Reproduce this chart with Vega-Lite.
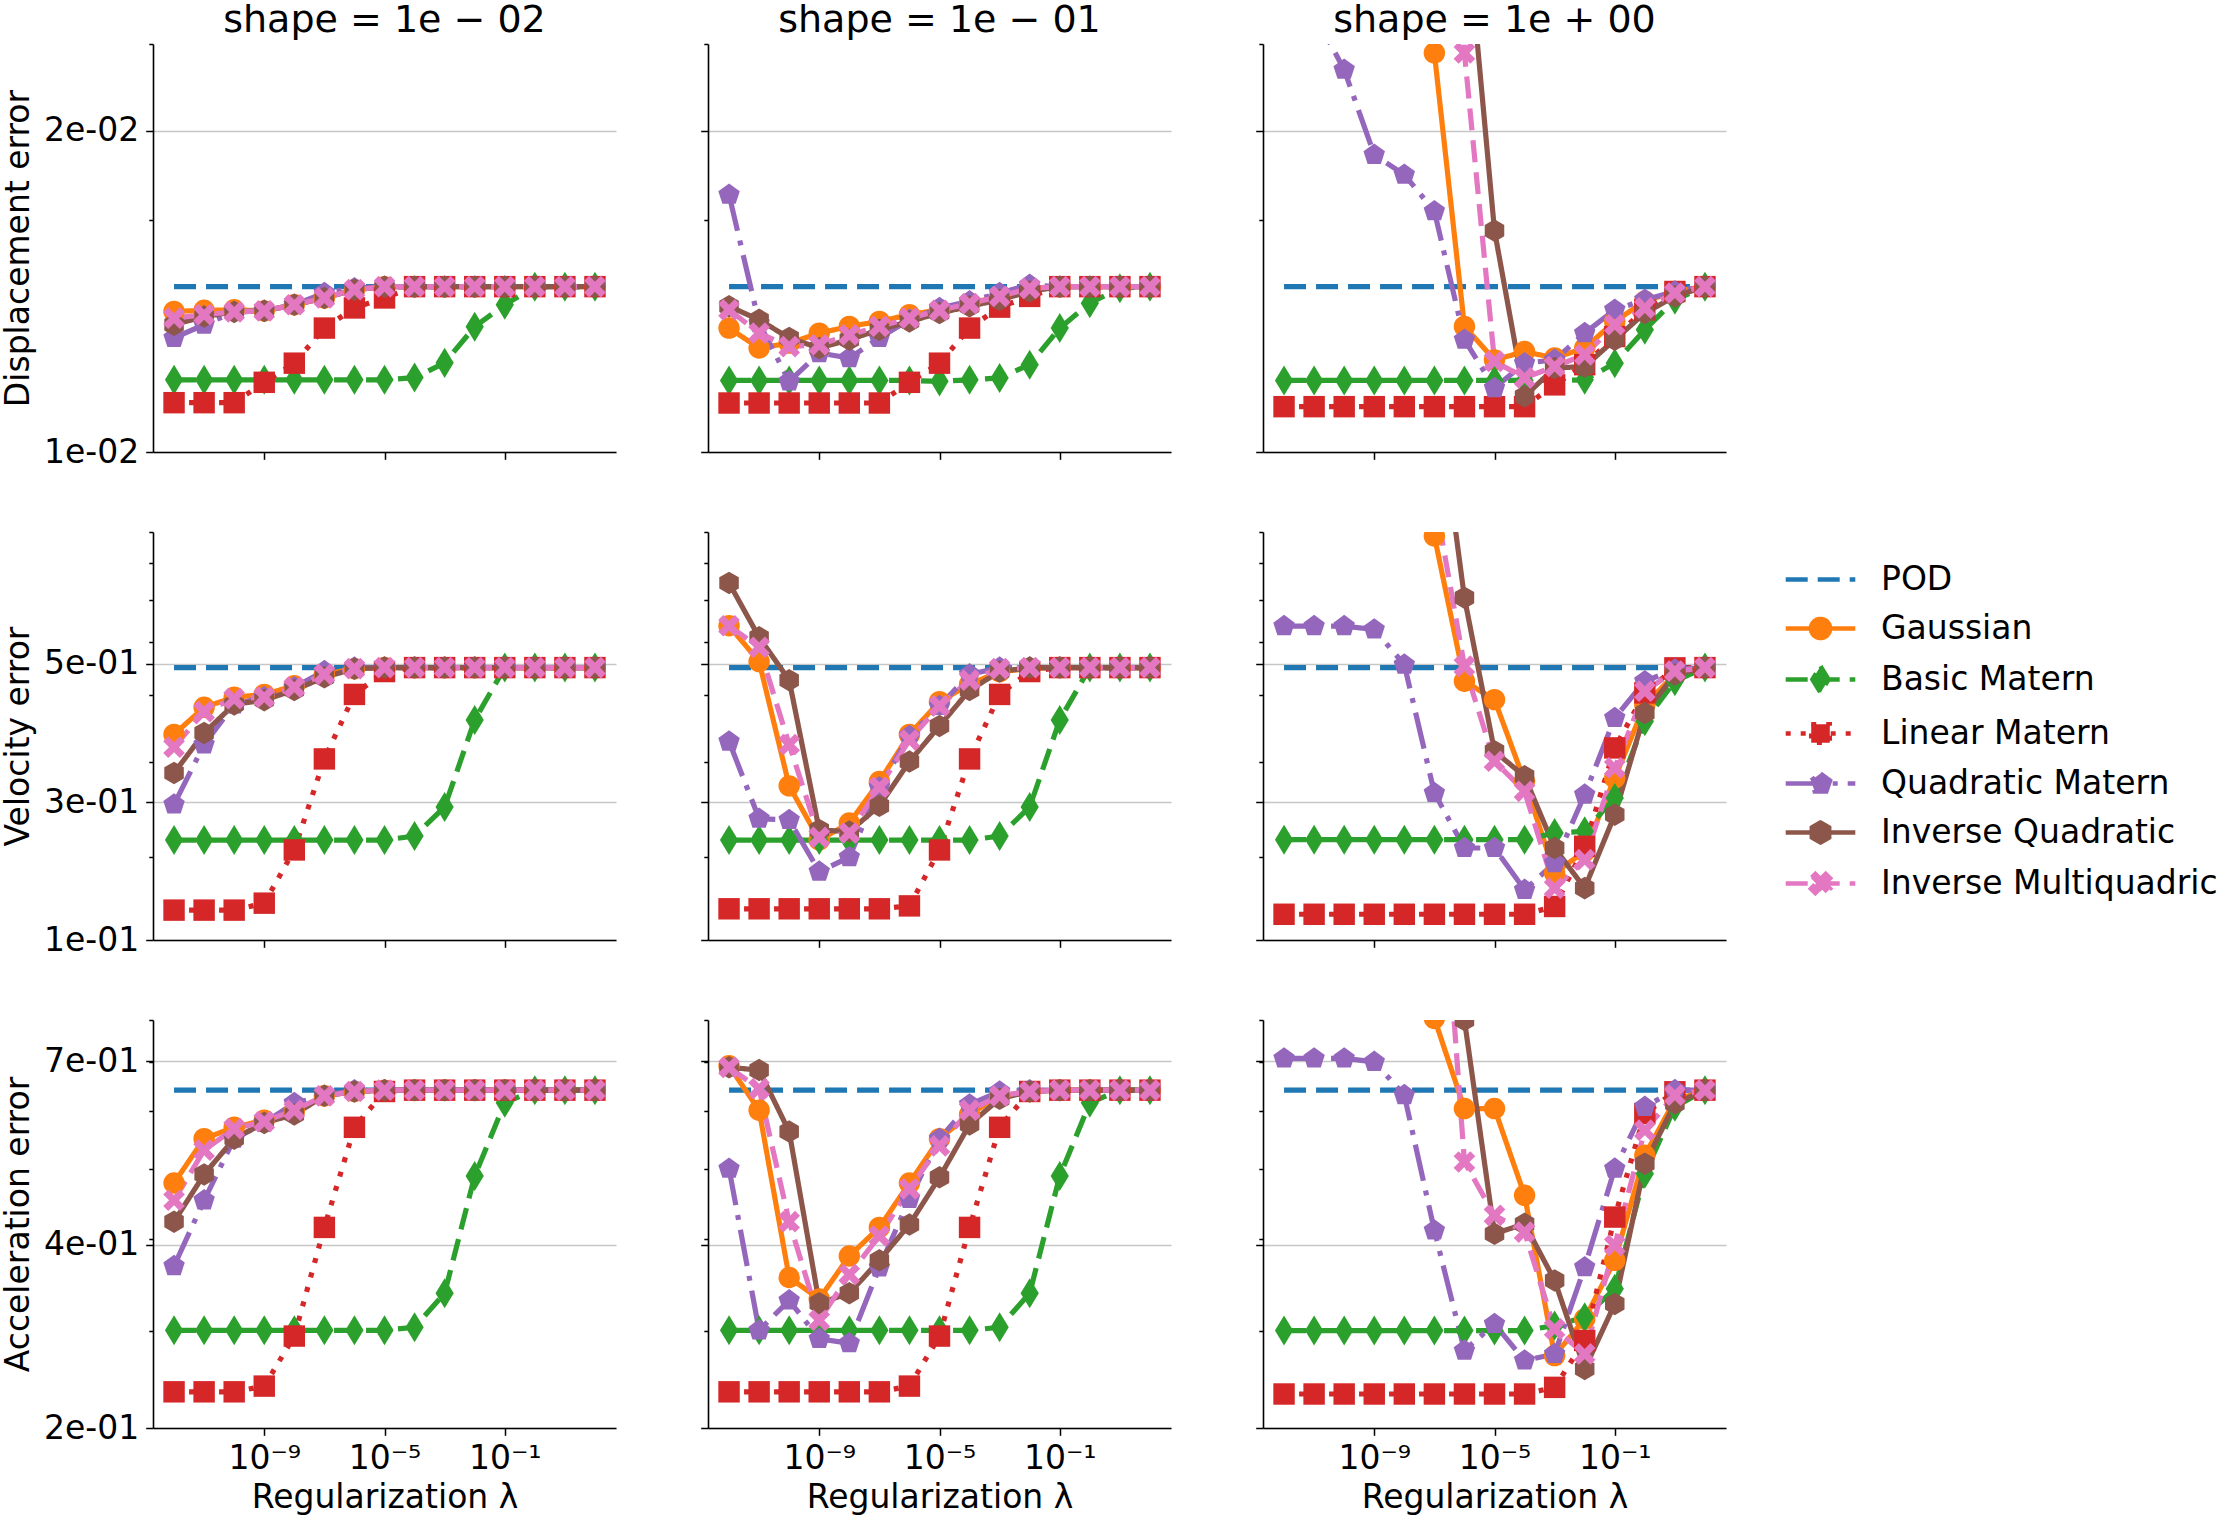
{
"$schema": "https://vega.github.io/schema/vega-lite/v6.json",
"background": "white",
"padding": {"left": 2, "top": 2, "right": 2, "bottom": 2},
"data": {"values": [
{"metric":"disp","shape":"s1","lambda":1e-12,"POD":0.01718,"Gaussian":0.01623,"Basic Matern":0.01387,"Linear Matern":0.01316,"Quadratic Matern":0.01527,"Inverse Quadratic":0.01574,"Inverse Multiquadric":0.01598},
{"metric":"disp","shape":"s1","lambda":1e-11,"POD":0.01718,"Gaussian":0.01627,"Basic Matern":0.01387,"Linear Matern":0.01316,"Quadratic Matern":0.01574,"Inverse Quadratic":0.01604,"Inverse Multiquadric":0.01611},
{"metric":"disp","shape":"s1","lambda":1e-10,"POD":0.01718,"Gaussian":0.01629,"Basic Matern":0.01387,"Linear Matern":0.01316,"Quadratic Matern":0.01621,"Inverse Quadratic":0.01621,"Inverse Multiquadric":0.01621},
{"metric":"disp","shape":"s1","lambda":1e-9,"POD":0.01718,"Gaussian":0.01625,"Basic Matern":0.01387,"Linear Matern":0.01379,"Quadratic Matern":0.01625,"Inverse Quadratic":0.01625,"Inverse Multiquadric":0.01625},
{"metric":"disp","shape":"s1","lambda":1e-8,"POD":0.01718,"Gaussian":0.01648,"Basic Matern":0.01387,"Linear Matern":0.01441,"Quadratic Matern":0.01648,"Inverse Quadratic":0.01648,"Inverse Multiquadric":0.01648},
{"metric":"disp","shape":"s1","lambda":1e-7,"POD":0.01718,"Gaussian":0.01674,"Basic Matern":0.01387,"Linear Matern":0.01562,"Quadratic Matern":0.01693,"Inverse Quadratic":0.01674,"Inverse Multiquadric":0.01674},
{"metric":"disp","shape":"s1","lambda":1e-6,"POD":0.01718,"Gaussian":0.01706,"Basic Matern":0.01387,"Linear Matern":0.01636,"Quadratic Matern":0.01712,"Inverse Quadratic":0.01706,"Inverse Multiquadric":0.01706},
{"metric":"disp","shape":"s1","lambda":1e-5,"POD":0.01718,"Gaussian":0.01718,"Basic Matern":0.01387,"Linear Matern":0.01674,"Quadratic Matern":0.01718,"Inverse Quadratic":0.01718,"Inverse Multiquadric":0.01718},
{"metric":"disp","shape":"s1","lambda":1e-4,"POD":0.01718,"Gaussian":0.01718,"Basic Matern":0.01394,"Linear Matern":0.01718,"Quadratic Matern":0.01718,"Inverse Quadratic":0.01718,"Inverse Multiquadric":0.01718},
{"metric":"disp","shape":"s1","lambda":1e-3,"POD":0.01718,"Gaussian":0.01718,"Basic Matern":0.01442,"Linear Matern":0.01718,"Quadratic Matern":0.01718,"Inverse Quadratic":0.01718,"Inverse Multiquadric":0.01718},
{"metric":"disp","shape":"s1","lambda":1e-2,"POD":0.01718,"Gaussian":0.01718,"Basic Matern":0.01567,"Linear Matern":0.01718,"Quadratic Matern":0.01718,"Inverse Quadratic":0.01718,"Inverse Multiquadric":0.01718},
{"metric":"disp","shape":"s1","lambda":1e-1,"POD":0.01718,"Gaussian":0.01718,"Basic Matern":0.01648,"Linear Matern":0.01718,"Quadratic Matern":0.01718,"Inverse Quadratic":0.01718,"Inverse Multiquadric":0.01718},
{"metric":"disp","shape":"s1","lambda":1,"POD":0.01718,"Gaussian":0.01718,"Basic Matern":0.01718,"Linear Matern":0.01718,"Quadratic Matern":0.01718,"Inverse Quadratic":0.01718,"Inverse Multiquadric":0.01718},
{"metric":"disp","shape":"s1","lambda":10,"POD":0.01718,"Gaussian":0.01718,"Basic Matern":0.01718,"Linear Matern":0.01718,"Quadratic Matern":0.01718,"Inverse Quadratic":0.01718,"Inverse Multiquadric":0.01718},
{"metric":"disp","shape":"s1","lambda":100,"POD":0.01718,"Gaussian":0.01718,"Basic Matern":0.01718,"Linear Matern":0.01718,"Quadratic Matern":0.01718,"Inverse Quadratic":0.01718,"Inverse Multiquadric":0.01718},
{"metric":"disp","shape":"s2","lambda":1e-12,"POD":0.01718,"Gaussian":0.01562,"Basic Matern":0.01385,"Linear Matern":0.01315,"Quadratic Matern":0.02122,"Inverse Quadratic":0.01642,"Inverse Multiquadric":0.01629},
{"metric":"disp","shape":"s2","lambda":1e-11,"POD":0.01718,"Gaussian":0.01492,"Basic Matern":0.01385,"Linear Matern":0.01315,"Quadratic Matern":0.0158,"Inverse Quadratic":0.01592,"Inverse Multiquadric":0.01544},
{"metric":"disp","shape":"s2","lambda":1e-10,"POD":0.01718,"Gaussian":0.01509,"Basic Matern":0.01385,"Linear Matern":0.01315,"Quadratic Matern":0.01382,"Inverse Quadratic":0.01527,"Inverse Multiquadric":0.01497},
{"metric":"disp","shape":"s2","lambda":1e-9,"POD":0.01718,"Gaussian":0.01544,"Basic Matern":0.01385,"Linear Matern":0.01315,"Quadratic Matern":0.01475,"Inverse Quadratic":0.01492,"Inverse Multiquadric":0.01503},
{"metric":"disp","shape":"s2","lambda":1e-8,"POD":0.01718,"Gaussian":0.01568,"Basic Matern":0.01385,"Linear Matern":0.01315,"Quadratic Matern":0.01458,"Inverse Quadratic":0.01521,"Inverse Multiquadric":0.01538},
{"metric":"disp","shape":"s2","lambda":1e-7,"POD":0.01718,"Gaussian":0.01586,"Basic Matern":0.01385,"Linear Matern":0.01315,"Quadratic Matern":0.01527,"Inverse Quadratic":0.01556,"Inverse Multiquadric":0.01568},
{"metric":"disp","shape":"s2","lambda":1e-6,"POD":0.01718,"Gaussian":0.01611,"Basic Matern":0.01385,"Linear Matern":0.01379,"Quadratic Matern":0.01592,"Inverse Quadratic":0.01586,"Inverse Multiquadric":0.01598},
{"metric":"disp","shape":"s2","lambda":1e-5,"POD":0.01718,"Gaussian":0.01629,"Basic Matern":0.01382,"Linear Matern":0.01441,"Quadratic Matern":0.01636,"Inverse Quadratic":0.01617,"Inverse Multiquadric":0.01627},
{"metric":"disp","shape":"s2","lambda":1e-4,"POD":0.01718,"Gaussian":0.01654,"Basic Matern":0.01387,"Linear Matern":0.01562,"Quadratic Matern":0.01661,"Inverse Quadratic":0.01642,"Inverse Multiquadric":0.01652},
{"metric":"disp","shape":"s2","lambda":1e-3,"POD":0.01718,"Gaussian":0.0168,"Basic Matern":0.01393,"Linear Matern":0.01639,"Quadratic Matern":0.01693,"Inverse Quadratic":0.01667,"Inverse Multiquadric":0.0168},
{"metric":"disp","shape":"s2","lambda":1e-2,"POD":0.01718,"Gaussian":0.01712,"Basic Matern":0.01436,"Linear Matern":0.0168,"Quadratic Matern":0.01725,"Inverse Quadratic":0.01699,"Inverse Multiquadric":0.01711},
{"metric":"disp","shape":"s2","lambda":1e-1,"POD":0.01718,"Gaussian":0.01718,"Basic Matern":0.01562,"Linear Matern":0.01718,"Quadratic Matern":0.01718,"Inverse Quadratic":0.01718,"Inverse Multiquadric":0.01718},
{"metric":"disp","shape":"s2","lambda":1,"POD":0.01718,"Gaussian":0.01718,"Basic Matern":0.01654,"Linear Matern":0.01718,"Quadratic Matern":0.01718,"Inverse Quadratic":0.01718,"Inverse Multiquadric":0.01718},
{"metric":"disp","shape":"s2","lambda":10,"POD":0.01718,"Gaussian":0.01718,"Basic Matern":0.01712,"Linear Matern":0.01718,"Quadratic Matern":0.01718,"Inverse Quadratic":0.01718,"Inverse Multiquadric":0.01718},
{"metric":"disp","shape":"s2","lambda":100,"POD":0.01718,"Gaussian":0.01718,"Basic Matern":0.01718,"Linear Matern":0.01718,"Quadratic Matern":0.01718,"Inverse Quadratic":0.01718,"Inverse Multiquadric":0.01718},
{"metric":"disp","shape":"s3","lambda":1e-12,"POD":0.01718,"Gaussian":0.5,"Basic Matern":0.01385,"Linear Matern":0.01304,"Quadratic Matern":0.0381,"Inverse Quadratic":0.5,"Inverse Multiquadric":0.5},
{"metric":"disp","shape":"s3","lambda":1e-11,"POD":0.01718,"Gaussian":0.5,"Basic Matern":0.01385,"Linear Matern":0.01304,"Quadratic Matern":0.0322,"Inverse Quadratic":0.5,"Inverse Multiquadric":0.5},
{"metric":"disp","shape":"s3","lambda":1e-10,"POD":0.01718,"Gaussian":0.5,"Basic Matern":0.01385,"Linear Matern":0.01304,"Quadratic Matern":0.02828,"Inverse Quadratic":0.5,"Inverse Multiquadric":0.5},
{"metric":"disp","shape":"s3","lambda":1e-9,"POD":0.01718,"Gaussian":0.5,"Basic Matern":0.01385,"Linear Matern":0.01304,"Quadratic Matern":0.02326,"Inverse Quadratic":0.5,"Inverse Multiquadric":0.5},
{"metric":"disp","shape":"s3","lambda":1e-8,"POD":0.01718,"Gaussian":0.5,"Basic Matern":0.01385,"Linear Matern":0.01304,"Quadratic Matern":0.02222,"Inverse Quadratic":0.5,"Inverse Multiquadric":0.5},
{"metric":"disp","shape":"s3","lambda":1e-7,"POD":0.01718,"Gaussian":0.02939,"Basic Matern":0.01385,"Linear Matern":0.01304,"Quadratic Matern":0.02043,"Inverse Quadratic":0.5,"Inverse Multiquadric":0.5},
{"metric":"disp","shape":"s3","lambda":1e-6,"POD":0.01718,"Gaussian":0.01568,"Basic Matern":0.01385,"Linear Matern":0.01304,"Quadratic Matern":0.01521,"Inverse Quadratic":0.0416,"Inverse Multiquadric":0.02939},
{"metric":"disp","shape":"s3","lambda":1e-5,"POD":0.01718,"Gaussian":0.01452,"Basic Matern":0.01385,"Linear Matern":0.01304,"Quadratic Matern":0.01361,"Inverse Quadratic":0.01954,"Inverse Multiquadric":0.01447},
{"metric":"disp","shape":"s3","lambda":1e-4,"POD":0.01718,"Gaussian":0.0148,"Basic Matern":0.01385,"Linear Matern":0.01304,"Quadratic Matern":0.01441,"Inverse Quadratic":0.01335,"Inverse Multiquadric":0.01393},
{"metric":"disp","shape":"s3","lambda":1e-3,"POD":0.01718,"Gaussian":0.01458,"Basic Matern":0.01385,"Linear Matern":0.01371,"Quadratic Matern":0.01452,"Inverse Quadratic":0.01425,"Inverse Multiquadric":0.0143},
{"metric":"disp","shape":"s3","lambda":1e-2,"POD":0.01718,"Gaussian":0.01492,"Basic Matern":0.01387,"Linear Matern":0.01436,"Quadratic Matern":0.01544,"Inverse Quadratic":0.0143,"Inverse Multiquadric":0.01469},
{"metric":"disp","shape":"s3","lambda":1e-1,"POD":0.01718,"Gaussian":0.01586,"Basic Matern":0.01441,"Linear Matern":0.01532,"Quadratic Matern":0.01629,"Inverse Quadratic":0.01521,"Inverse Multiquadric":0.01574},
{"metric":"disp","shape":"s3","lambda":1,"POD":0.01718,"Gaussian":0.01661,"Basic Matern":0.01556,"Linear Matern":0.01629,"Quadratic Matern":0.01667,"Inverse Quadratic":0.01617,"Inverse Multiquadric":0.01636},
{"metric":"disp","shape":"s3","lambda":10,"POD":0.01718,"Gaussian":0.01699,"Basic Matern":0.01667,"Linear Matern":0.01699,"Quadratic Matern":0.01699,"Inverse Quadratic":0.0168,"Inverse Multiquadric":0.01693},
{"metric":"disp","shape":"s3","lambda":100,"POD":0.01718,"Gaussian":0.01718,"Basic Matern":0.01718,"Linear Matern":0.01718,"Quadratic Matern":0.01718,"Inverse Quadratic":0.01718,"Inverse Multiquadric":0.01718},
{"metric":"vel","shape":"s1","lambda":1e-12,"POD":0.449,"Gaussian":0.3378,"Basic Matern":0.2154,"Linear Matern":0.1598,"Quadratic Matern":0.2507,"Inverse Quadratic":0.2866,"Inverse Multiquadric":0.3199},
{"metric":"vel","shape":"s1","lambda":1e-11,"POD":0.449,"Gaussian":0.3791,"Basic Matern":0.2154,"Linear Matern":0.1598,"Quadratic Matern":0.3236,"Inverse Quadratic":0.3399,"Inverse Multiquadric":0.3722},
{"metric":"vel","shape":"s1","lambda":1e-10,"POD":0.449,"Gaussian":0.3957,"Basic Matern":0.2154,"Linear Matern":0.1598,"Quadratic Matern":0.3838,"Inverse Quadratic":0.3838,"Inverse Multiquadric":0.3933},
{"metric":"vel","shape":"s1","lambda":1e-9,"POD":0.449,"Gaussian":0.4005,"Basic Matern":0.2154,"Linear Matern":0.1646,"Quadratic Matern":0.3957,"Inverse Quadratic":0.3909,"Inverse Multiquadric":0.3957},
{"metric":"vel","shape":"s1","lambda":1e-8,"POD":0.449,"Gaussian":0.4154,"Basic Matern":0.2154,"Linear Matern":0.2065,"Quadratic Matern":0.4129,"Inverse Quadratic":0.408,"Inverse Multiquadric":0.4129},
{"metric":"vel","shape":"s1","lambda":1e-7,"POD":0.449,"Gaussian":0.4363,"Basic Matern":0.2154,"Linear Matern":0.3043,"Quadratic Matern":0.4423,"Inverse Quadratic":0.4309,"Inverse Multiquadric":0.4363},
{"metric":"vel","shape":"s1","lambda":1e-6,"POD":0.449,"Gaussian":0.4469,"Basic Matern":0.2154,"Linear Matern":0.4005,"Quadratic Matern":0.449,"Inverse Quadratic":0.4469,"Inverse Multiquadric":0.4469},
{"metric":"vel","shape":"s1","lambda":1e-5,"POD":0.449,"Gaussian":0.449,"Basic Matern":0.2154,"Linear Matern":0.4415,"Quadratic Matern":0.449,"Inverse Quadratic":0.449,"Inverse Multiquadric":0.449},
{"metric":"vel","shape":"s1","lambda":1e-4,"POD":0.449,"Gaussian":0.449,"Basic Matern":0.2191,"Linear Matern":0.449,"Quadratic Matern":0.449,"Inverse Quadratic":0.449,"Inverse Multiquadric":0.449},
{"metric":"vel","shape":"s1","lambda":1e-3,"POD":0.449,"Gaussian":0.449,"Basic Matern":0.248,"Linear Matern":0.449,"Quadratic Matern":0.449,"Inverse Quadratic":0.449,"Inverse Multiquadric":0.449},
{"metric":"vel","shape":"s1","lambda":1e-2,"POD":0.449,"Gaussian":0.449,"Basic Matern":0.3593,"Linear Matern":0.449,"Quadratic Matern":0.449,"Inverse Quadratic":0.449,"Inverse Multiquadric":0.449},
{"metric":"vel","shape":"s1","lambda":1e-1,"POD":0.449,"Gaussian":0.449,"Basic Matern":0.449,"Linear Matern":0.449,"Quadratic Matern":0.449,"Inverse Quadratic":0.449,"Inverse Multiquadric":0.449},
{"metric":"vel","shape":"s1","lambda":1,"POD":0.449,"Gaussian":0.449,"Basic Matern":0.449,"Linear Matern":0.449,"Quadratic Matern":0.449,"Inverse Quadratic":0.449,"Inverse Multiquadric":0.449},
{"metric":"vel","shape":"s1","lambda":10,"POD":0.449,"Gaussian":0.449,"Basic Matern":0.449,"Linear Matern":0.449,"Quadratic Matern":0.449,"Inverse Quadratic":0.449,"Inverse Multiquadric":0.449},
{"metric":"vel","shape":"s1","lambda":100,"POD":0.449,"Gaussian":0.449,"Basic Matern":0.449,"Linear Matern":0.449,"Quadratic Matern":0.449,"Inverse Quadratic":0.449,"Inverse Multiquadric":0.449},
{"metric":"vel","shape":"s2","lambda":1e-12,"POD":0.449,"Gaussian":0.5366,"Basic Matern":0.2154,"Linear Matern":0.1607,"Quadratic Matern":0.3277,"Inverse Quadratic":0.644,"Inverse Multiquadric":0.5366},
{"metric":"vel","shape":"s2","lambda":1e-11,"POD":0.449,"Gaussian":0.4607,"Basic Matern":0.2154,"Linear Matern":0.1607,"Quadratic Matern":0.2359,"Inverse Quadratic":0.5109,"Inverse Multiquadric":0.4896},
{"metric":"vel","shape":"s2","lambda":1e-10,"POD":0.449,"Gaussian":0.2713,"Basic Matern":0.2154,"Linear Matern":0.1607,"Quadratic Matern":0.2346,"Inverse Quadratic":0.4256,"Inverse Multiquadric":0.3236},
{"metric":"vel","shape":"s2","lambda":1e-9,"POD":0.449,"Gaussian":0.2154,"Basic Matern":0.2154,"Linear Matern":0.1607,"Quadratic Matern":0.1883,"Inverse Quadratic":0.2248,"Inverse Multiquadric":0.2179},
{"metric":"vel","shape":"s2","lambda":1e-8,"POD":0.449,"Gaussian":0.2316,"Basic Matern":0.2154,"Linear Matern":0.1607,"Quadratic Matern":0.2002,"Inverse Quadratic":0.2233,"Inverse Multiquadric":0.2219},
{"metric":"vel","shape":"s2","lambda":1e-7,"POD":0.449,"Gaussian":0.2763,"Basic Matern":0.2154,"Linear Matern":0.1607,"Quadratic Matern":0.2697,"Inverse Quadratic":0.2492,"Inverse Multiquadric":0.2697},
{"metric":"vel","shape":"s2","lambda":1e-6,"POD":0.449,"Gaussian":0.3378,"Basic Matern":0.2154,"Linear Matern":0.1627,"Quadratic Matern":0.3356,"Inverse Quadratic":0.3009,"Inverse Multiquadric":0.3297},
{"metric":"vel","shape":"s2","lambda":1e-5,"POD":0.449,"Gaussian":0.3884,"Basic Matern":0.2154,"Linear Matern":0.2065,"Quadratic Matern":0.3813,"Inverse Quadratic":0.3502,"Inverse Multiquadric":0.3813},
{"metric":"vel","shape":"s2","lambda":1e-4,"POD":0.449,"Gaussian":0.418,"Basic Matern":0.2154,"Linear Matern":0.3043,"Quadratic Matern":0.4363,"Inverse Quadratic":0.408,"Inverse Multiquadric":0.4256},
{"metric":"vel","shape":"s2","lambda":1e-3,"POD":0.449,"Gaussian":0.4415,"Basic Matern":0.2191,"Linear Matern":0.4005,"Quadratic Matern":0.449,"Inverse Quadratic":0.4415,"Inverse Multiquadric":0.4469},
{"metric":"vel","shape":"s2","lambda":1e-2,"POD":0.449,"Gaussian":0.4469,"Basic Matern":0.248,"Linear Matern":0.4415,"Quadratic Matern":0.449,"Inverse Quadratic":0.449,"Inverse Multiquadric":0.449},
{"metric":"vel","shape":"s2","lambda":1e-1,"POD":0.449,"Gaussian":0.449,"Basic Matern":0.3593,"Linear Matern":0.449,"Quadratic Matern":0.449,"Inverse Quadratic":0.449,"Inverse Multiquadric":0.449},
{"metric":"vel","shape":"s2","lambda":1,"POD":0.449,"Gaussian":0.449,"Basic Matern":0.449,"Linear Matern":0.449,"Quadratic Matern":0.449,"Inverse Quadratic":0.449,"Inverse Multiquadric":0.449},
{"metric":"vel","shape":"s2","lambda":10,"POD":0.449,"Gaussian":0.449,"Basic Matern":0.449,"Linear Matern":0.449,"Quadratic Matern":0.449,"Inverse Quadratic":0.449,"Inverse Multiquadric":0.449},
{"metric":"vel","shape":"s2","lambda":100,"POD":0.449,"Gaussian":0.449,"Basic Matern":0.449,"Linear Matern":0.449,"Quadratic Matern":0.449,"Inverse Quadratic":0.449,"Inverse Multiquadric":0.449},
{"metric":"vel","shape":"s3","lambda":1e-12,"POD":0.449,"Gaussian":5,"Basic Matern":0.2157,"Linear Matern":0.157,"Quadratic Matern":0.5358,"Inverse Quadratic":5,"Inverse Multiquadric":5},
{"metric":"vel","shape":"s3","lambda":1e-11,"POD":0.449,"Gaussian":5,"Basic Matern":0.2157,"Linear Matern":0.157,"Quadratic Matern":0.5358,"Inverse Quadratic":5,"Inverse Multiquadric":5},
{"metric":"vel","shape":"s3","lambda":1e-10,"POD":0.449,"Gaussian":5,"Basic Matern":0.2157,"Linear Matern":0.157,"Quadratic Matern":0.5358,"Inverse Quadratic":5,"Inverse Multiquadric":5},
{"metric":"vel","shape":"s3","lambda":1e-9,"POD":0.449,"Gaussian":5,"Basic Matern":0.2157,"Linear Matern":0.157,"Quadratic Matern":0.5281,"Inverse Quadratic":5,"Inverse Multiquadric":5},
{"metric":"vel","shape":"s3","lambda":1e-8,"POD":0.449,"Gaussian":5,"Basic Matern":0.2157,"Linear Matern":0.157,"Quadratic Matern":0.4548,"Inverse Quadratic":5,"Inverse Multiquadric":5},
{"metric":"vel","shape":"s3","lambda":1e-7,"POD":0.449,"Gaussian":0.7865,"Basic Matern":0.2157,"Linear Matern":0.157,"Quadratic Matern":0.2633,"Inverse Quadratic":1.593,"Inverse Multiquadric":0.931},
{"metric":"vel","shape":"s3","lambda":1e-6,"POD":0.449,"Gaussian":0.4238,"Basic Matern":0.2157,"Linear Matern":0.157,"Quadratic Matern":0.2082,"Inverse Quadratic":0.6046,"Inverse Multiquadric":0.4518},
{"metric":"vel","shape":"s3","lambda":1e-5,"POD":0.449,"Gaussian":0.3917,"Basic Matern":0.2157,"Linear Matern":0.157,"Quadratic Matern":0.2082,"Inverse Quadratic":0.3144,"Inverse Multiquadric":0.3013},
{"metric":"vel","shape":"s3","lambda":1e-4,"POD":0.449,"Gaussian":0.2767,"Basic Matern":0.2157,"Linear Matern":0.157,"Quadratic Matern":0.1742,"Inverse Quadratic":0.2826,"Inverse Multiquadric":0.2651},
{"metric":"vel","shape":"s3","lambda":1e-3,"POD":0.449,"Gaussian":0.1871,"Basic Matern":0.2219,"Linear Matern":0.1623,"Quadratic Matern":0.1953,"Inverse Quadratic":0.2082,"Inverse Multiquadric":0.1755},
{"metric":"vel","shape":"s3","lambda":1e-2,"POD":0.449,"Gaussian":0.2053,"Basic Matern":0.2236,"Linear Matern":0.2097,"Quadratic Matern":0.2614,"Inverse Quadratic":0.1755,"Inverse Multiquadric":0.1981},
{"metric":"vel","shape":"s3","lambda":1e-1,"POD":0.449,"Gaussian":0.2806,"Basic Matern":0.2577,"Linear Matern":0.3189,"Quadratic Matern":0.3624,"Inverse Quadratic":0.2399,"Inverse Multiquadric":0.2928},
{"metric":"vel","shape":"s3","lambda":1,"POD":0.449,"Gaussian":0.3834,"Basic Matern":0.3573,"Linear Matern":0.4031,"Quadratic Matern":0.4238,"Inverse Quadratic":0.3702,"Inverse Multiquadric":0.4061},
{"metric":"vel","shape":"s3","lambda":10,"POD":0.449,"Gaussian":0.4359,"Basic Matern":0.4238,"Linear Matern":0.4485,"Quadratic Matern":0.4453,"Inverse Quadratic":0.4359,"Inverse Multiquadric":0.4423},
{"metric":"vel","shape":"s3","lambda":100,"POD":0.449,"Gaussian":0.449,"Basic Matern":0.449,"Linear Matern":0.449,"Quadratic Matern":0.449,"Inverse Quadratic":0.449,"Inverse Multiquadric":0.449},
{"metric":"acc","shape":"s1","lambda":1e-12,"POD":0.641,"Gaussian":0.4781,"Basic Matern":0.3002,"Linear Matern":0.2472,"Quadratic Matern":0.3678,"Inverse Quadratic":0.4231,"Inverse Multiquadric":0.4527},
{"metric":"acc","shape":"s1","lambda":1e-11,"POD":0.641,"Gaussian":0.5499,"Basic Matern":0.3002,"Linear Matern":0.2472,"Quadratic Matern":0.4527,"Inverse Quadratic":0.4912,"Inverse Multiquadric":0.5303},
{"metric":"acc","shape":"s1","lambda":1e-10,"POD":0.641,"Gaussian":0.57,"Basic Matern":0.3002,"Linear Matern":0.2472,"Quadratic Matern":0.5499,"Inverse Quadratic":0.5499,"Inverse Multiquadric":0.5676},
{"metric":"acc","shape":"s1","lambda":1e-9,"POD":0.641,"Gaussian":0.5831,"Basic Matern":0.3002,"Linear Matern":0.2517,"Quadratic Matern":0.5779,"Inverse Quadratic":0.5779,"Inverse Multiquadric":0.5805},
{"metric":"acc","shape":"s1","lambda":1e-8,"POD":0.641,"Gaussian":0.5991,"Basic Matern":0.3002,"Linear Matern":0.2948,"Quadratic Matern":0.6154,"Inverse Quadratic":0.5936,"Inverse Multiquadric":0.6017},
{"metric":"acc","shape":"s1","lambda":1e-7,"POD":0.641,"Gaussian":0.6296,"Basic Matern":0.3002,"Linear Matern":0.4155,"Quadratic Matern":0.6296,"Inverse Quadratic":0.6296,"Inverse Multiquadric":0.6296},
{"metric":"acc","shape":"s1","lambda":1e-6,"POD":0.641,"Gaussian":0.6383,"Basic Matern":0.3002,"Linear Matern":0.57,"Quadratic Matern":0.641,"Inverse Quadratic":0.6383,"Inverse Multiquadric":0.6383},
{"metric":"acc","shape":"s1","lambda":1e-5,"POD":0.641,"Gaussian":0.641,"Basic Matern":0.3002,"Linear Matern":0.6383,"Quadratic Matern":0.641,"Inverse Quadratic":0.641,"Inverse Multiquadric":0.641},
{"metric":"acc","shape":"s1","lambda":1e-4,"POD":0.641,"Gaussian":0.641,"Basic Matern":0.3031,"Linear Matern":0.641,"Quadratic Matern":0.641,"Inverse Quadratic":0.641,"Inverse Multiquadric":0.641},
{"metric":"acc","shape":"s1","lambda":1e-3,"POD":0.641,"Gaussian":0.641,"Basic Matern":0.3375,"Linear Matern":0.641,"Quadratic Matern":0.641,"Inverse Quadratic":0.641,"Inverse Multiquadric":0.641},
{"metric":"acc","shape":"s1","lambda":1e-2,"POD":0.641,"Gaussian":0.641,"Basic Matern":0.4888,"Linear Matern":0.641,"Quadratic Matern":0.641,"Inverse Quadratic":0.641,"Inverse Multiquadric":0.641},
{"metric":"acc","shape":"s1","lambda":1e-1,"POD":0.641,"Gaussian":0.641,"Basic Matern":0.6158,"Linear Matern":0.641,"Quadratic Matern":0.641,"Inverse Quadratic":0.641,"Inverse Multiquadric":0.641},
{"metric":"acc","shape":"s1","lambda":1,"POD":0.641,"Gaussian":0.641,"Basic Matern":0.641,"Linear Matern":0.641,"Quadratic Matern":0.641,"Inverse Quadratic":0.641,"Inverse Multiquadric":0.641},
{"metric":"acc","shape":"s1","lambda":10,"POD":0.641,"Gaussian":0.641,"Basic Matern":0.641,"Linear Matern":0.641,"Quadratic Matern":0.641,"Inverse Quadratic":0.641,"Inverse Multiquadric":0.641},
{"metric":"acc","shape":"s1","lambda":100,"POD":0.641,"Gaussian":0.641,"Basic Matern":0.641,"Linear Matern":0.641,"Quadratic Matern":0.641,"Inverse Quadratic":0.641,"Inverse Multiquadric":0.641},
{"metric":"acc","shape":"s2","lambda":1e-12,"POD":0.641,"Gaussian":0.6922,"Basic Matern":0.3002,"Linear Matern":0.2472,"Quadratic Matern":0.5001,"Inverse Quadratic":0.6889,"Inverse Multiquadric":0.6889},
{"metric":"acc","shape":"s2","lambda":1e-11,"POD":0.641,"Gaussian":0.6017,"Basic Matern":0.3002,"Linear Matern":0.2472,"Quadratic Matern":0.3002,"Inverse Quadratic":0.6829,"Inverse Multiquadric":0.644},
{"metric":"acc","shape":"s2","lambda":1e-10,"POD":0.641,"Gaussian":0.3547,"Basic Matern":0.3002,"Linear Matern":0.2472,"Quadratic Matern":0.33,"Inverse Quadratic":0.5624,"Inverse Multiquadric":0.4231},
{"metric":"acc","shape":"s2","lambda":1e-9,"POD":0.641,"Gaussian":0.3314,"Basic Matern":0.3002,"Linear Matern":0.2472,"Quadratic Matern":0.2922,"Inverse Quadratic":0.327,"Inverse Multiquadric":0.3098},
{"metric":"acc","shape":"s2","lambda":1e-8,"POD":0.641,"Gaussian":0.3796,"Basic Matern":0.3002,"Linear Matern":0.2472,"Quadratic Matern":0.2882,"Inverse Quadratic":0.3375,"Inverse Multiquadric":0.358},
{"metric":"acc","shape":"s2","lambda":1e-7,"POD":0.641,"Gaussian":0.4155,"Basic Matern":0.3002,"Linear Matern":0.2472,"Quadratic Matern":0.3662,"Inverse Quadratic":0.3745,"Inverse Multiquadric":0.4044},
{"metric":"acc","shape":"s2","lambda":1e-6,"POD":0.641,"Gaussian":0.4781,"Basic Matern":0.3002,"Linear Matern":0.2517,"Quadratic Matern":0.4548,"Inverse Quadratic":0.4192,"Inverse Multiquadric":0.4694},
{"metric":"acc","shape":"s2","lambda":1e-5,"POD":0.641,"Gaussian":0.5499,"Basic Matern":0.3002,"Linear Matern":0.2948,"Quadratic Matern":0.5499,"Inverse Quadratic":0.4867,"Inverse Multiquadric":0.5375},
{"metric":"acc","shape":"s2","lambda":1e-4,"POD":0.641,"Gaussian":0.5936,"Basic Matern":0.3002,"Linear Matern":0.4155,"Quadratic Matern":0.6127,"Inverse Quadratic":0.5752,"Inverse Multiquadric":0.6017},
{"metric":"acc","shape":"s2","lambda":1e-3,"POD":0.641,"Gaussian":0.6296,"Basic Matern":0.3031,"Linear Matern":0.57,"Quadratic Matern":0.6383,"Inverse Quadratic":0.6238,"Inverse Multiquadric":0.6296},
{"metric":"acc","shape":"s2","lambda":1e-2,"POD":0.641,"Gaussian":0.6383,"Basic Matern":0.3375,"Linear Matern":0.6383,"Quadratic Matern":0.641,"Inverse Quadratic":0.6383,"Inverse Multiquadric":0.6383},
{"metric":"acc","shape":"s2","lambda":1e-1,"POD":0.641,"Gaussian":0.641,"Basic Matern":0.4888,"Linear Matern":0.641,"Quadratic Matern":0.641,"Inverse Quadratic":0.641,"Inverse Multiquadric":0.641},
{"metric":"acc","shape":"s2","lambda":1,"POD":0.641,"Gaussian":0.641,"Basic Matern":0.6158,"Linear Matern":0.641,"Quadratic Matern":0.641,"Inverse Quadratic":0.641,"Inverse Multiquadric":0.641},
{"metric":"acc","shape":"s2","lambda":10,"POD":0.641,"Gaussian":0.641,"Basic Matern":0.641,"Linear Matern":0.641,"Quadratic Matern":0.641,"Inverse Quadratic":0.641,"Inverse Multiquadric":0.641},
{"metric":"acc","shape":"s2","lambda":100,"POD":0.641,"Gaussian":0.641,"Basic Matern":0.641,"Linear Matern":0.641,"Quadratic Matern":0.641,"Inverse Quadratic":0.641,"Inverse Multiquadric":0.641},
{"metric":"acc","shape":"s3","lambda":1e-12,"POD":0.641,"Gaussian":5,"Basic Matern":0.3,"Linear Matern":0.2455,"Quadratic Matern":0.7085,"Inverse Quadratic":5,"Inverse Multiquadric":5},
{"metric":"acc","shape":"s3","lambda":1e-11,"POD":0.641,"Gaussian":5,"Basic Matern":0.3,"Linear Matern":0.2455,"Quadratic Matern":0.7085,"Inverse Quadratic":5,"Inverse Multiquadric":5},
{"metric":"acc","shape":"s3","lambda":1e-10,"POD":0.641,"Gaussian":5,"Basic Matern":0.3,"Linear Matern":0.2455,"Quadratic Matern":0.7085,"Inverse Quadratic":5,"Inverse Multiquadric":5},
{"metric":"acc","shape":"s3","lambda":1e-9,"POD":0.641,"Gaussian":5,"Basic Matern":0.3,"Linear Matern":0.2455,"Quadratic Matern":0.701,"Inverse Quadratic":5,"Inverse Multiquadric":5},
{"metric":"acc","shape":"s3","lambda":1e-8,"POD":0.641,"Gaussian":5,"Basic Matern":0.3,"Linear Matern":0.2455,"Quadratic Matern":0.631,"Inverse Quadratic":5,"Inverse Multiquadric":5},
{"metric":"acc","shape":"s3","lambda":1e-7,"POD":0.641,"Gaussian":0.804,"Basic Matern":0.3,"Linear Matern":0.2455,"Quadratic Matern":0.4116,"Inverse Quadratic":5,"Inverse Multiquadric":1.88},
{"metric":"acc","shape":"s3","lambda":1e-6,"POD":0.641,"Gaussian":0.6048,"Basic Matern":0.3,"Linear Matern":0.2455,"Quadratic Matern":0.2816,"Inverse Quadratic":0.8,"Inverse Multiquadric":0.5109},
{"metric":"acc","shape":"s3","lambda":1e-5,"POD":0.641,"Gaussian":0.6048,"Basic Matern":0.3,"Linear Matern":0.2455,"Quadratic Matern":0.3063,"Inverse Quadratic":0.4072,"Inverse Multiquadric":0.4316},
{"metric":"acc","shape":"s3","lambda":1e-4,"POD":0.641,"Gaussian":0.4598,"Basic Matern":0.3,"Linear Matern":0.2455,"Quadratic Matern":0.2729,"Inverse Quadratic":0.4203,"Inverse Multiquadric":0.4094},
{"metric":"acc","shape":"s3","lambda":1e-3,"POD":0.641,"Gaussian":0.2772,"Basic Matern":0.3048,"Linear Matern":0.2507,"Quadratic Matern":0.2786,"Inverse Quadratic":0.3514,"Inverse Multiquadric":0.3015},
{"metric":"acc","shape":"s3","lambda":1e-2,"POD":0.641,"Gaussian":0.3112,"Basic Matern":0.3129,"Linear Matern":0.2907,"Quadratic Matern":0.3665,"Inverse Quadratic":0.2657,"Inverse Multiquadric":0.2786},
{"metric":"acc","shape":"s3","lambda":1e-1,"POD":0.641,"Gaussian":0.3744,"Basic Matern":0.3422,"Linear Matern":0.4293,"Quadratic Matern":0.5003,"Inverse Quadratic":0.3263,"Inverse Multiquadric":0.3926},
{"metric":"acc","shape":"s3","lambda":1,"POD":0.641,"Gaussian":0.5219,"Basic Matern":0.4924,"Linear Matern":0.5954,"Quadratic Matern":0.6081,"Inverse Quadratic":0.5081,"Inverse Multiquadric":0.5649},
{"metric":"acc","shape":"s3","lambda":10,"POD":0.641,"Gaussian":0.6211,"Basic Matern":0.6081,"Linear Matern":0.6377,"Quadratic Matern":0.6411,"Inverse Quadratic":0.6144,"Inverse Multiquadric":0.631},
{"metric":"acc","shape":"s3","lambda":100,"POD":0.641,"Gaussian":0.641,"Basic Matern":0.641,"Linear Matern":0.641,"Quadratic Matern":0.641,"Inverse Quadratic":0.641,"Inverse Multiquadric":0.641}
]},
"transform": [{"fold": ["POD","Gaussian","Basic Matern","Linear Matern","Quadratic Matern","Inverse Quadratic","Inverse Multiquadric"], "as": ["method","error"]}],
"spacing": 47,
"vconcat": [
{"hconcat": [
 {"width": 463, "height": 408, "title": "shape = 1e − 02",
  "transform": [{"filter": "datum.metric === 'disp' && datum.shape === 's1'"}],
  "encoding": {
   "x": {"field": "lambda", "type": "quantitative", "scale": {"type": "log", "domain": [1.995e-13, 501.2], "nice": false}, "axis": {"values": [1e-9, 1e-5, 0.1], "labels": false, "title": null}},
   "y": {"field": "error", "type": "quantitative", "scale": {"type": "log", "domain": [0.01175, 0.03], "nice": false}, "axis": {"title": "Displacement error", "values": [0.01175, 0.02, 0.02458, 0.03], "labelExpr": "abs(datum.value*100 - round(datum.value*100)) > 0.01 ? replace(format(datum.value, '.0e'), 'e-', 'e-0') : ''", "labelFontSize": {"condition": {"test": "abs(datum.value*100 - round(datum.value*100)) > 0.01", "value": 33}, "value": 0}, "gridOpacity": {"condition": {"test": "abs(datum.value*100 - round(datum.value*100)) > 0.01", "value": 1}, "value": 0}, "tickSize": {"condition": {"test": "abs(datum.value*100 - round(datum.value*100)) > 0.01", "value": 7.3}, "value": 4.2}}},
   "color": {"field": "method", "type": "nominal",
     "scale": {"domain": ["POD","Gaussian","Basic Matern","Linear Matern","Quadratic Matern","Inverse Quadratic","Inverse Multiquadric"], "range": ["#1f77b4","#ff7f0e","#2ca02c","#d62728","#9467bd","#8c564b","#e377c2"]},
     "legend": {"orient": "none", "legendX": 1636, "legendY": 504, "title": null, "labelFontSize": 33, "labelFont": "DejaVu Sans", "labelColor": "black", "labelLimit": 800, "symbolSize": 3364, "symbolStrokeWidth": 4, "labelOffset": 29, "rowPadding": 0,
       "encode": {"symbols": {"update": {
         "shape": {"signal": "datum.value === 'POD' ? 'M-1.2,0L1.2,0' : datum.value === 'Gaussian' ? 'M-1.2,0L1.2,0M-0.33,0A0.33,0.33,0,1,0,0.33,0A0.33,0.33,0,1,0,-0.33,0Z' : datum.value === 'Basic Matern' ? 'M-1.2,0L1.2,0M0,-0.46L0.28,0L0,0.46L-0.28,0Z' : datum.value === 'Linear Matern' ? 'M-1.2,0L1.2,0M-0.32,-0.32L0.32,-0.32L0.32,0.32L-0.32,0.32Z' : datum.value === 'Quadratic Matern' ? 'M-1.2,0L1.2,0M0,-0.345L0.33,-0.1L0.2,0.28L-0.2,0.28L-0.33,-0.1Z' : datum.value === 'Inverse Quadratic' ? 'M-1.2,0L1.2,0M0,-0.345L0.3,-0.172L0.3,0.172L0,0.345L-0.3,0.172L-0.3,-0.172Z' : 'M-1.2,0L1.2,0M0.178,-0.332L0.332,-0.178L0.153,0L0.332,0.178L0.178,0.332L0,0.153L-0.178,0.332L-0.332,0.178L-0.153,0L-0.332,-0.178L-0.178,-0.332L0,-0.153Z'"},
         "strokeDash": {"signal": "(datum.value === 'POD' || datum.value === 'Basic Matern' || datum.value === 'Inverse Multiquadric') ? [22,10] : datum.value === 'Linear Matern' ? [5,10] : datum.value === 'Quadratic Matern' ? [37,10,5,10] : [1,0]"},
         "size": {"value": 3364},
         "fill": {"scale": "color", "field": "value"},
         "stroke": {"scale": "color", "field": "value"},
         "strokeWidth": {"value": 4.5},
         "opacity": {"value": 1}, "fillOpacity": {"value": 1}, "strokeOpacity": {"value": 1}
       }}}}}
  },
  "layer": [
   {"mark": {"type": "line", "clip": true, "strokeWidth": 5.2}, "encoding": {"strokeDash": {"field": "method", "type": "nominal", "scale": {"domain": ["POD","Gaussian","Basic Matern","Linear Matern","Quadratic Matern","Inverse Quadratic","Inverse Multiquadric"], "range": [[22,10],[1,0],[22,10],[5,10],[37,10,5,10],[1,0],[22,10]]}, "legend": null}}},
   {"transform": [{"filter": "datum.method !== 'POD'"}], "mark": {"type": "point", "filled": true, "clip": true, "size": 460, "opacity": 1}, "encoding": {"shape": {"field": "method", "type": "nominal", "scale": {"domain": ["Gaussian","Basic Matern","Linear Matern","Quadratic Matern","Inverse Quadratic","Inverse Multiquadric"], "range": ["circle","M0,-1.4L0.85,0L0,1.4L-0.85,0Z","M-1,-1L1,-1L1,1L-1,1Z","M0,-1.05L1,-0.32L0.62,0.85L-0.62,0.85L-1,-0.32Z","M0,-1.05L0.91,-0.525L0.91,0.525L0,1.05L-0.91,0.525L-0.91,-0.525Z","M0.544,-1.011L1.011,-0.544L0.467,0L1.011,0.544L0.544,1.011L0,0.467L-0.544,1.011L-1.011,0.544L-0.467,0L-1.011,-0.544L-0.544,-1.011L0,-0.467Z"]}, "legend": null}}}
  ]},
 {"width": 463, "height": 408, "title": "shape = 1e − 01",
  "transform": [{"filter": "datum.metric === 'disp' && datum.shape === 's2'"}],
  "encoding": {
   "x": {"field": "lambda", "type": "quantitative", "scale": {"type": "log", "domain": [1.995e-13, 501.2], "nice": false}, "axis": {"values": [1e-9, 1e-5, 0.1], "labels": false, "title": null}},
   "y": {"field": "error", "type": "quantitative", "scale": {"type": "log", "domain": [0.01175, 0.03], "nice": false}, "axis": {"title": null, "labels": false, "values": [0.01175, 0.02, 0.02458, 0.03], "gridOpacity": {"condition": {"test": "abs(datum.value*100 - round(datum.value*100)) > 0.01", "value": 1}, "value": 0}, "tickSize": {"condition": {"test": "abs(datum.value*100 - round(datum.value*100)) > 0.01", "value": 7.3}, "value": 4.2}}},
   "color": {"field": "method", "type": "nominal"}
  },
  "layer": [
   {"mark": {"type": "line", "clip": true, "strokeWidth": 5.2}, "encoding": {"strokeDash": {"field": "method", "type": "nominal", "legend": null}}},
   {"transform": [{"filter": "datum.method !== 'POD'"}], "mark": {"type": "point", "filled": true, "clip": true, "size": 460, "opacity": 1}, "encoding": {"shape": {"field": "method", "type": "nominal", "legend": null}}}
  ]},
 {"width": 463, "height": 408, "title": "shape = 1e + 00",
  "transform": [{"filter": "datum.metric === 'disp' && datum.shape === 's3'"}],
  "encoding": {
   "x": {"field": "lambda", "type": "quantitative", "scale": {"type": "log", "domain": [1.995e-13, 501.2], "nice": false}, "axis": {"values": [1e-9, 1e-5, 0.1], "labels": false, "title": null}},
   "y": {"field": "error", "type": "quantitative", "scale": {"type": "log", "domain": [0.01175, 0.03], "nice": false}, "axis": {"title": null, "labels": false, "values": [0.01175, 0.02, 0.02458, 0.03], "gridOpacity": {"condition": {"test": "abs(datum.value*100 - round(datum.value*100)) > 0.01", "value": 1}, "value": 0}, "tickSize": {"condition": {"test": "abs(datum.value*100 - round(datum.value*100)) > 0.01", "value": 7.3}, "value": 4.2}}},
   "color": {"field": "method", "type": "nominal"}
  },
  "layer": [
   {"mark": {"type": "line", "clip": true, "strokeWidth": 5.2}, "encoding": {"strokeDash": {"field": "method", "type": "nominal", "legend": null}}},
   {"transform": [{"filter": "datum.method !== 'POD'"}], "mark": {"type": "point", "filled": true, "clip": true, "size": 460, "opacity": 1}, "encoding": {"shape": {"field": "method", "type": "nominal", "legend": null}}}
  ]}
], "spacing": 92, "bounds": "flush"},
{"hconcat": [
 {"width": 463, "height": 408,
  "transform": [{"filter": "datum.metric === 'vel' && datum.shape === 's1'"}],
  "encoding": {
   "x": {"field": "lambda", "type": "quantitative", "scale": {"type": "log", "domain": [1.995e-13, 501.2], "nice": false}, "axis": {"values": [1e-9, 1e-5, 0.1], "labels": false, "title": null}},
   "y": {"field": "error", "type": "quantitative", "scale": {"type": "log", "domain": [0.1407, 0.8], "nice": false}, "axis": {"title": "Velocity error", "values": [0.1407, 0.2, 0.2532, 0.3, 0.4, 0.456, 0.5, 0.6, 0.7, 0.8], "labelExpr": "abs(datum.value*100 - round(datum.value*100)) > 0.01 ? replace(format(datum.value, '.0e'), 'e-', 'e-0') : ''", "gridOpacity": {"condition": {"test": "abs(datum.value*100 - round(datum.value*100)) > 0.01", "value": 1}, "value": 0}, "tickSize": {"condition": {"test": "abs(datum.value*100 - round(datum.value*100)) > 0.01", "value": 7.3}, "value": 4.2}}},
   "color": {"field": "method", "type": "nominal"}
  },
  "layer": [
   {"mark": {"type": "line", "clip": true, "strokeWidth": 5.2}, "encoding": {"strokeDash": {"field": "method", "type": "nominal", "legend": null}}},
   {"transform": [{"filter": "datum.method !== 'POD'"}], "mark": {"type": "point", "filled": true, "clip": true, "size": 460, "opacity": 1}, "encoding": {"shape": {"field": "method", "type": "nominal", "legend": null}}}
  ]},
 {"width": 463, "height": 408,
  "transform": [{"filter": "datum.metric === 'vel' && datum.shape === 's2'"}],
  "encoding": {
   "x": {"field": "lambda", "type": "quantitative", "scale": {"type": "log", "domain": [1.995e-13, 501.2], "nice": false}, "axis": {"values": [1e-9, 1e-5, 0.1], "labels": false, "title": null}},
   "y": {"field": "error", "type": "quantitative", "scale": {"type": "log", "domain": [0.1407, 0.8], "nice": false}, "axis": {"title": null, "labels": false, "values": [0.1407, 0.2, 0.2532, 0.3, 0.4, 0.456, 0.5, 0.6, 0.7, 0.8], "gridOpacity": {"condition": {"test": "abs(datum.value*100 - round(datum.value*100)) > 0.01", "value": 1}, "value": 0}, "tickSize": {"condition": {"test": "abs(datum.value*100 - round(datum.value*100)) > 0.01", "value": 7.3}, "value": 4.2}}},
   "color": {"field": "method", "type": "nominal"}
  },
  "layer": [
   {"mark": {"type": "line", "clip": true, "strokeWidth": 5.2}, "encoding": {"strokeDash": {"field": "method", "type": "nominal", "legend": null}}},
   {"transform": [{"filter": "datum.method !== 'POD'"}], "mark": {"type": "point", "filled": true, "clip": true, "size": 460, "opacity": 1}, "encoding": {"shape": {"field": "method", "type": "nominal", "legend": null}}}
  ]},
 {"width": 463, "height": 408,
  "transform": [{"filter": "datum.metric === 'vel' && datum.shape === 's3'"}],
  "encoding": {
   "x": {"field": "lambda", "type": "quantitative", "scale": {"type": "log", "domain": [1.995e-13, 501.2], "nice": false}, "axis": {"values": [1e-9, 1e-5, 0.1], "labels": false, "title": null}},
   "y": {"field": "error", "type": "quantitative", "scale": {"type": "log", "domain": [0.1407, 0.8], "nice": false}, "axis": {"title": null, "labels": false, "values": [0.1407, 0.2, 0.2532, 0.3, 0.4, 0.456, 0.5, 0.6, 0.7, 0.8], "gridOpacity": {"condition": {"test": "abs(datum.value*100 - round(datum.value*100)) > 0.01", "value": 1}, "value": 0}, "tickSize": {"condition": {"test": "abs(datum.value*100 - round(datum.value*100)) > 0.01", "value": 7.3}, "value": 4.2}}},
   "color": {"field": "method", "type": "nominal"}
  },
  "layer": [
   {"mark": {"type": "line", "clip": true, "strokeWidth": 5.2}, "encoding": {"strokeDash": {"field": "method", "type": "nominal", "legend": null}}},
   {"transform": [{"filter": "datum.method !== 'POD'"}], "mark": {"type": "point", "filled": true, "clip": true, "size": 460, "opacity": 1}, "encoding": {"shape": {"field": "method", "type": "nominal", "legend": null}}}
  ]}
], "spacing": 92, "bounds": "flush"},
{"hconcat": [
 {"width": 463, "height": 408,
  "transform": [{"filter": "datum.metric === 'acc' && datum.shape === 's1'"}],
  "encoding": {
   "x": {"field": "lambda", "type": "quantitative", "scale": {"type": "log", "domain": [1.995e-13, 501.2], "nice": false}, "axis": {"values": [1e-9, 1e-5, 0.1], "title": "Regularization λ", "labelExpr": "datum.value < 1e-7 ? '10⁻⁹' : datum.value < 1e-3 ? '10⁻⁵' : '10⁻¹'"}},
   "y": {"field": "error", "type": "quantitative", "scale": {"type": "log", "domain": [0.2205, 0.8], "nice": false}, "axis": {"title": "Acceleration error", "values": [0.2205, 0.3, 0.3933, 0.4, 0.5, 0.6, 0.7, 0.7027, 0.8], "labelExpr": "abs(datum.value*100 - round(datum.value*100)) > 0.01 ? replace(format(datum.value, '.0e'), 'e-', 'e-0') : ''", "gridOpacity": {"condition": {"test": "abs(datum.value*100 - round(datum.value*100)) > 0.01", "value": 1}, "value": 0}, "tickSize": {"condition": {"test": "abs(datum.value*100 - round(datum.value*100)) > 0.01", "value": 7.3}, "value": 4.2}}},
   "color": {"field": "method", "type": "nominal"}
  },
  "layer": [
   {"mark": {"type": "line", "clip": true, "strokeWidth": 5.2}, "encoding": {"strokeDash": {"field": "method", "type": "nominal", "legend": null}}},
   {"transform": [{"filter": "datum.method !== 'POD'"}], "mark": {"type": "point", "filled": true, "clip": true, "size": 460, "opacity": 1}, "encoding": {"shape": {"field": "method", "type": "nominal", "legend": null}}}
  ]},
 {"width": 463, "height": 408,
  "transform": [{"filter": "datum.metric === 'acc' && datum.shape === 's2'"}],
  "encoding": {
   "x": {"field": "lambda", "type": "quantitative", "scale": {"type": "log", "domain": [1.995e-13, 501.2], "nice": false}, "axis": {"values": [1e-9, 1e-5, 0.1], "title": "Regularization λ", "labelExpr": "datum.value < 1e-7 ? '10⁻⁹' : datum.value < 1e-3 ? '10⁻⁵' : '10⁻¹'"}},
   "y": {"field": "error", "type": "quantitative", "scale": {"type": "log", "domain": [0.2205, 0.8], "nice": false}, "axis": {"title": null, "labels": false, "values": [0.2205, 0.3, 0.3933, 0.4, 0.5, 0.6, 0.7, 0.7027, 0.8], "gridOpacity": {"condition": {"test": "abs(datum.value*100 - round(datum.value*100)) > 0.01", "value": 1}, "value": 0}, "tickSize": {"condition": {"test": "abs(datum.value*100 - round(datum.value*100)) > 0.01", "value": 7.3}, "value": 4.2}}},
   "color": {"field": "method", "type": "nominal"}
  },
  "layer": [
   {"mark": {"type": "line", "clip": true, "strokeWidth": 5.2}, "encoding": {"strokeDash": {"field": "method", "type": "nominal", "legend": null}}},
   {"transform": [{"filter": "datum.method !== 'POD'"}], "mark": {"type": "point", "filled": true, "clip": true, "size": 460, "opacity": 1}, "encoding": {"shape": {"field": "method", "type": "nominal", "legend": null}}}
  ]},
 {"width": 463, "height": 408,
  "transform": [{"filter": "datum.metric === 'acc' && datum.shape === 's3'"}],
  "encoding": {
   "x": {"field": "lambda", "type": "quantitative", "scale": {"type": "log", "domain": [1.995e-13, 501.2], "nice": false}, "axis": {"values": [1e-9, 1e-5, 0.1], "title": "Regularization λ", "labelExpr": "datum.value < 1e-7 ? '10⁻⁹' : datum.value < 1e-3 ? '10⁻⁵' : '10⁻¹'"}},
   "y": {"field": "error", "type": "quantitative", "scale": {"type": "log", "domain": [0.2205, 0.8], "nice": false}, "axis": {"title": null, "labels": false, "values": [0.2205, 0.3, 0.3933, 0.4, 0.5, 0.6, 0.7, 0.7027, 0.8], "gridOpacity": {"condition": {"test": "abs(datum.value*100 - round(datum.value*100)) > 0.01", "value": 1}, "value": 0}, "tickSize": {"condition": {"test": "abs(datum.value*100 - round(datum.value*100)) > 0.01", "value": 7.3}, "value": 4.2}}},
   "color": {"field": "method", "type": "nominal"}
  },
  "layer": [
   {"mark": {"type": "line", "clip": true, "strokeWidth": 5.2}, "encoding": {"strokeDash": {"field": "method", "type": "nominal", "legend": null}}},
   {"transform": [{"filter": "datum.method !== 'POD'"}], "mark": {"type": "point", "filled": true, "clip": true, "size": 460, "opacity": 1}, "encoding": {"shape": {"field": "method", "type": "nominal", "legend": null}}}
  ]}
], "spacing": 92, "bounds": "flush"}
],
"config": {
 "font": "DejaVu Sans",
 "view": {"stroke": null},
 "axis": {"domainColor": "black", "domainWidth": 1.6, "tickColor": "black", "tickWidth": 1.5, "labelColor": "black", "labelFont": "DejaVu Sans", "labelFontSize": 33, "titleFont": "DejaVu Sans", "titleFontSize": 33, "titleFontWeight": "normal", "titleColor": "black", "labelPadding": 7, "gridColor": "#c6c6c6", "gridWidth": 1.5, "labelOverlap": false, "labelFlush": false, "labelBound": false},
 "axisX": {"grid": false, "tickSize": 7.3, "titlePadding": 6},
 "axisY": {"titlePadding": 8},
 "title": {"font": "DejaVu Sans", "fontSize": 38, "fontWeight": "normal", "color": "black", "offset": 3, "anchor": "middle", "frame": "group"}
}
}
